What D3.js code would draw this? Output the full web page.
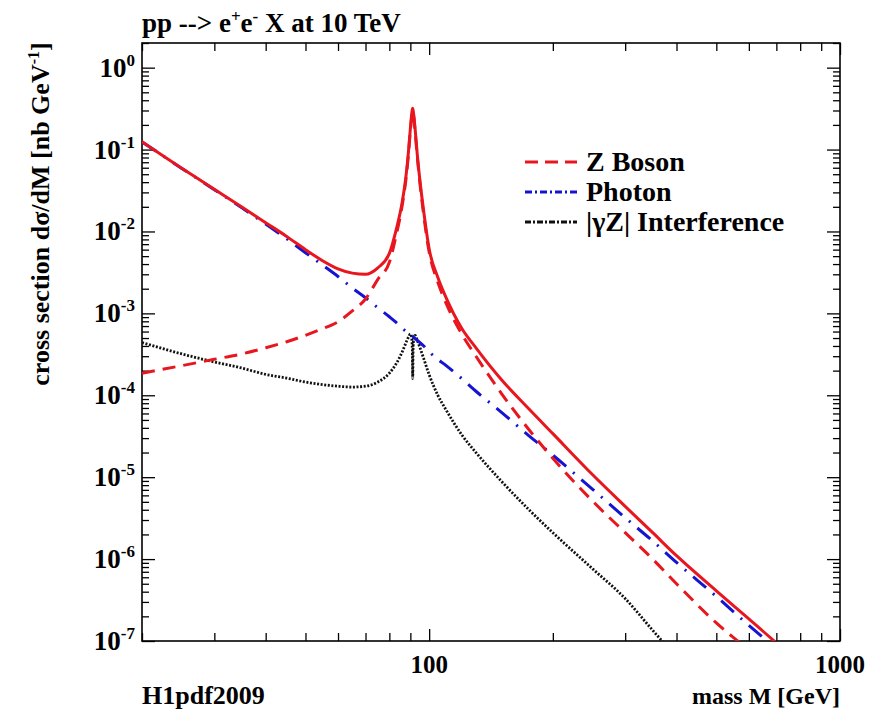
<!DOCTYPE html>
<html>
<head>
<meta charset="utf-8">
<script src="https://cdn.jsdelivr.net/npm/d3@7"></script>
<style>
body { margin: 0; background: #fff; }
text { font-family: "Liberation Serif", "Times New Roman", serif; font-weight: bold; fill: #000; }
</style>
</head>
<body>
<div id="chart"></div>
<script>
// dilepton mass in GeV
const mass = [20, 25, 30, 35, 40, 45, 50, 55, 60, 65,
	70, 75, 80, 83, 86, 88, 89, 90, 90.6, 91.0,
	91.2, 91.4, 91.8, 92.5, 93.5, 95, 97, 100, 105, 110,
	120, 130, 150, 175, 200, 250, 300, 350, 400, 500,
	600, 700, 800];

// dsigma/dM in nb/GeV
const zBoson = [1.86e-4, 2.3e-4, 2.75e-4, 3.2e-4, 3.8e-4, 4.5e-4, 5.4e-4, 6.5e-4, 7.9e-4, 1.07e-3,
	1.5e-3, 2.6e-3, 4.2e-3, 8.7e-3, 0.021, 0.048, 0.085, 0.17, 0.24, 0.285,
	0.295, 0.28, 0.24, 0.16, 0.085, 0.038, 0.0158, 5.6e-3, 2.4e-3, 1.32e-3,
	5.6e-4, 3.0e-4, 1.05e-4, 3.8e-5, 1.7e-5, 5.1e-6, 2.1e-6, 1.0e-6, 5.0e-7, 1.66e-7,
	7.6e-8, 3.5e-8, 1.8e-8];

const photon = [0.124, 0.0589, 0.0324, 0.0195, 0.0123, 0.00813, 0.0055, 0.00389, 0.00282, 0.00204,
	0.00155, 0.00117, 9.1e-4, 7.8e-4, 6.6e-4, 6.0e-4, 5.75e-4, 5.5e-4, 5.4e-4, 5.3e-4,
	5.25e-4, 5.2e-4, 5.1e-4, 4.9e-4, 4.7e-4, 4.4e-4, 4.0e-4, 3.4e-4, 2.75e-4, 2.3e-4,
	1.6e-4, 1.12e-4, 6.2e-5, 3.2e-5, 1.86e-5, 7.1e-6, 3.2e-6, 1.66e-6, 9.1e-7, 3.5e-7,
	1.55e-7, 8e-8, 4.5e-8];

const interference = [4.4e-4, 3.2e-4, 2.55e-4, 2.15e-4, 1.8e-4, 1.62e-4, 1.45e-4, 1.35e-4, 1.29e-4, 1.26e-4,
	1.29e-4, 1.45e-4, 1.86e-4, 2.4e-4, 3.4e-4, 4.5e-4, 5.1e-4, 5.6e-4, 5.2e-4, 3.6e-4,
	1.6e-4, 3.8e-4, 5.2e-4, 5.4e-4, 4.7e-4, 3.8e-4, 2.8e-4, 1.78e-4, 1.0e-4, 6.6e-5,
	3.3e-5, 2.0e-5, 8.9e-6, 4.0e-6, 2.1e-6, 7.6e-7, 3.3e-7, 1.35e-7, 6.3e-8, 1.6e-8,
	6.3e-9, 2.5e-9, 1e-9];

const total = [0.125, 0.0592, 0.0328, 0.0199, 0.0128, 0.0087, 0.0060, 0.0044, 0.0035, 0.0031,
	0.0030, 0.0036, 0.0054, 0.0102, 0.023, 0.052, 0.092, 0.18, 0.26, 0.31,
	0.32, 0.30, 0.255, 0.17, 0.09, 0.041, 0.0175, 6.1e-3, 2.75e-3, 1.55e-3,
	6.6e-4, 3.8e-4, 1.55e-4, 6.8e-5, 3.4e-5, 1.07e-5, 4.4e-6, 2.1e-6, 1.1e-6, 4.1e-7,
	1.86e-7, 9.5e-8, 5.4e-8];

const xLabels = [100, 1000];
const yExponents = [0, -1, -2, -3, -4, -5, -6, -7];

const legendNames = ["Z Boson", "Photon", "|\u03b3Z| Interference"];

const width = 874;
const height = 714;
const plotLeft = 142, plotRight = 840, plotTop = 43, plotBottom = 641;

const x = d3.scaleLog().domain([20, 1000]).range([plotLeft, plotRight]);
const y = d3.scaleLog().domain([1e-7, 2]).range([plotBottom, plotTop]);

const svg = d3.select("#chart")
	.append("svg")
	.attr("width", width)
	.attr("height", height);

svg.append("defs").append("clipPath")
	.attr("id", "plotArea")
	.append("rect")
	.attr("x", plotLeft)
	.attr("y", plotTop)
	.attr("width", plotRight - plotLeft)
	.attr("height", plotBottom - plotTop);

// ticks, all pointing inwards
const isMajor = v => Math.abs(Math.log10(v) - Math.round(Math.log10(v))) < 1e-9;
const xMinor = x.ticks().filter(v => !isMajor(v));
const xMajor = x.ticks().filter(isMajor);
const yMinor = y.ticks().filter(v => !isMajor(v));
const yMajor = y.ticks().filter(isMajor);

function tickAxis(axis, values, size, tx, ty) {
	const g = svg.append("g")
		.attr("transform", `translate(${tx},${ty})`)
		.call(axis.tickValues(values).tickSize(-size).tickFormat(""));
	g.select(".domain").remove();
	g.selectAll("line").attr("stroke", "#000").attr("stroke-width", 1.3);
}

tickAxis(d3.axisBottom(x), xMinor, 8, 0, plotBottom);
tickAxis(d3.axisBottom(x), xMajor, 12, 0, plotBottom);
tickAxis(d3.axisTop(x), xMinor, 8, 0, plotTop);
tickAxis(d3.axisTop(x), xMajor, 12, 0, plotTop);
tickAxis(d3.axisLeft(y), yMinor, 7, plotLeft, 0);
tickAxis(d3.axisLeft(y), yMajor, 13, plotLeft, 0);
tickAxis(d3.axisRight(y), yMinor, 7, plotRight, 0);
tickAxis(d3.axisRight(y), yMajor, 13, plotRight, 0);

svg.append("rect")
	.attr("x", plotLeft)
	.attr("y", plotTop)
	.attr("width", plotRight - plotLeft)
	.attr("height", plotBottom - plotTop)
	.attr("fill", "none")
	.attr("stroke", "#000")
	.attr("stroke-width", 1.6);

// curves
function curve(values) {
	return d3.line()
		.x((d, i) => x(mass[i]))
		.y(d => y(d))
		.curve(d3.curveMonotoneX)(values);
}

const plot = svg.append("g").attr("clip-path", "url(#plotArea)");

plot.append("path")
	.attr("d", curve(interference))
	.attr("fill", "none")
	.attr("stroke", "#111")
	.attr("stroke-width", 2.8)
	.attr("stroke-dasharray", "2,1.6");

plot.append("path")
	.attr("d", curve(photon))
	.attr("fill", "none")
	.attr("stroke", "#1414d2")
	.attr("stroke-width", 3)
	.attr("stroke-dasharray", "17,9,2,9");

plot.append("path")
	.attr("d", curve(zBoson))
	.attr("fill", "none")
	.attr("stroke", "#e8161e")
	.attr("stroke-width", 3)
	.attr("stroke-dasharray", "13,8");

plot.append("path")
	.attr("d", curve(total))
	.attr("fill", "none")
	.attr("stroke", "#e8161e")
	.attr("stroke-width", 3);

// y tick labels
svg.selectAll("text.ylabel")
	.data(yExponents)
	.enter()
	.append("text")
	.attr("class", "ylabel")
	.attr("text-anchor", "end")
	.attr("font-size", "27px")
	.attr("x", 135)
	.attr("y", d => y(Math.pow(10, d)) + 9)
	.each(function(d) {
		const t = d3.select(this);
		t.append("tspan").text("10");
		t.append("tspan").attr("dy", -11).attr("font-size", "17px").text(d);
	});

// x tick labels
svg.selectAll("text.xlabel")
	.data(xLabels)
	.enter()
	.append("text")
	.attr("class", "xlabel")
	.attr("text-anchor", "middle")
	.attr("font-size", "25px")
	.attr("x", d => x(d))
	.attr("y", 673)
	.text(d => d);

// title
const title = svg.append("text")
	.attr("x", plotLeft)
	.attr("y", 32)
	.attr("font-size", "27px");
title.append("tspan").text("pp --> e");
title.append("tspan").attr("dy", -10).attr("font-size", "17px").text("+");
title.append("tspan").attr("dy", 10).text("e");
title.append("tspan").attr("dy", -10).attr("font-size", "17px").text("-");
title.append("tspan").attr("dy", 10).text(" X at 10 TeV");

// y axis title
const ytitle = svg.append("text")
	.attr("transform", "translate(49,214) rotate(-90)")
	.attr("text-anchor", "middle")
	.attr("font-size", "26px");
ytitle.append("tspan").text("cross section d\u03c3/dM [nb GeV");
ytitle.append("tspan").attr("dy", -10).attr("font-size", "16px").text("-1");
ytitle.append("tspan").attr("dy", 10).text("]");

svg.append("text")
	.attr("x", plotLeft)
	.attr("y", 704)
	.attr("font-size", "26px")
	.text("H1pdf2009");

svg.append("text")
	.attr("x", plotRight)
	.attr("y", 704)
	.attr("text-anchor", "end")
	.attr("font-size", "24px")
	.text("mass M [GeV]");

// legend
const legendColors = ["#e8161e", "#1414d2", "#111"];
const legendDash = ["13,7", "7,3,2,3", "6,2,2,2"];

const legend = svg.selectAll("g.legend")
	.data(legendNames)
	.enter()
	.append("g")
	.attr("class", "legend")
	.attr("transform", (d, i) => `translate(0,${171 + i * 30})`);

legend.append("line")
	.attr("x1", 525)
	.attr("x2", 577)
	.attr("y1", -9)
	.attr("y2", -9)
	.attr("stroke", (d, i) => legendColors[i])
	.attr("stroke-width", 3)
	.attr("stroke-dasharray", (d, i) => legendDash[i]);

legend.append("text")
	.attr("x", 586)
	.attr("font-size", "28px")
	.text(d => d);
</script>
</body>
</html>
